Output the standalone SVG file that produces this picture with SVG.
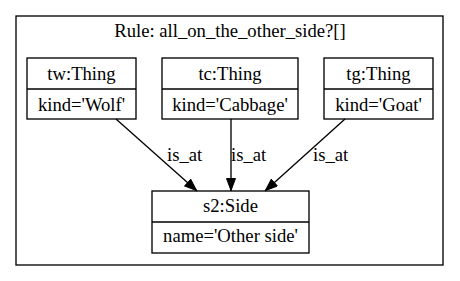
<svg xmlns="http://www.w3.org/2000/svg" width="460" height="281" viewBox="0 0 460 281">
  <style>
    text { font-family: "Liberation Serif", "Times New Roman", serif; font-size: 18.67px; fill: #000; text-anchor: middle; }
    .box { fill: none; stroke: #000; stroke-width: 1.33; }
    .edge { fill: none; stroke: #000; stroke-width: 1.33; }
    .lbl { text-anchor: start; }
  </style>
  <defs>
    <marker id="arrow" viewBox="0 0 13 10" refX="13" refY="5" markerWidth="13" markerHeight="10" markerUnits="userSpaceOnUse" orient="auto">
      <path d="M0.5,0.5 L12.5,5 L0.5,9.5 Z" fill="#000" stroke="#000" stroke-width="1"/>
    </marker>
  </defs>
  <rect width="460" height="281" fill="#fff"/>

  <!-- rule cluster -->
  <g id="cluster_rule">
    <rect class="box" x="16" y="16" width="427" height="249" stroke="#333"/>
    <text x="230" y="37">Rule: all_on_the_other_side?[]</text>
  </g>

  <g id="tw">
    <rect class="box" x="27" y="58" width="109" height="61"/>
    <line class="box" x1="27" y1="89" x2="136" y2="89"/>
    <text x="81.5" y="80">tw:Thing</text>
    <text x="81.5" y="111">kind='Wolf'</text>
  </g>

  <g id="tc">
    <rect class="box" x="162" y="58" width="136" height="61"/>
    <line class="box" x1="162" y1="89" x2="298" y2="89"/>
    <text x="230" y="80">tc:Thing</text>
    <text x="230" y="111">kind='Cabbage'</text>
  </g>

  <g id="tg">
    <rect class="box" x="324" y="58" width="109" height="61"/>
    <line class="box" x1="324" y1="89" x2="433" y2="89"/>
    <text x="378.5" y="80">tg:Thing</text>
    <text x="378.5" y="111">kind='Goat'</text>
  </g>

  <g id="s2">
    <rect class="box" x="152" y="191" width="157" height="62"/>
    <line class="box" x1="152" y1="222" x2="309" y2="222"/>
    <text x="230.5" y="212">s2:Side</text>
    <text x="230.5" y="242">name='Other side'</text>
  </g>

  <g id="edges">
    <line class="edge" x1="116" y1="119" x2="197" y2="191" marker-end="url(#arrow)"/>
    <line class="edge" x1="231" y1="119" x2="231" y2="191" marker-end="url(#arrow)"/>
    <line class="edge" x1="345" y1="119" x2="265" y2="191" marker-end="url(#arrow)"/>
    <text class="lbl" x="167" y="161">is_at</text>
    <text class="lbl" x="231" y="161">is_at</text>
    <text class="lbl" x="313" y="161">is_at</text>
  </g>
</svg>
